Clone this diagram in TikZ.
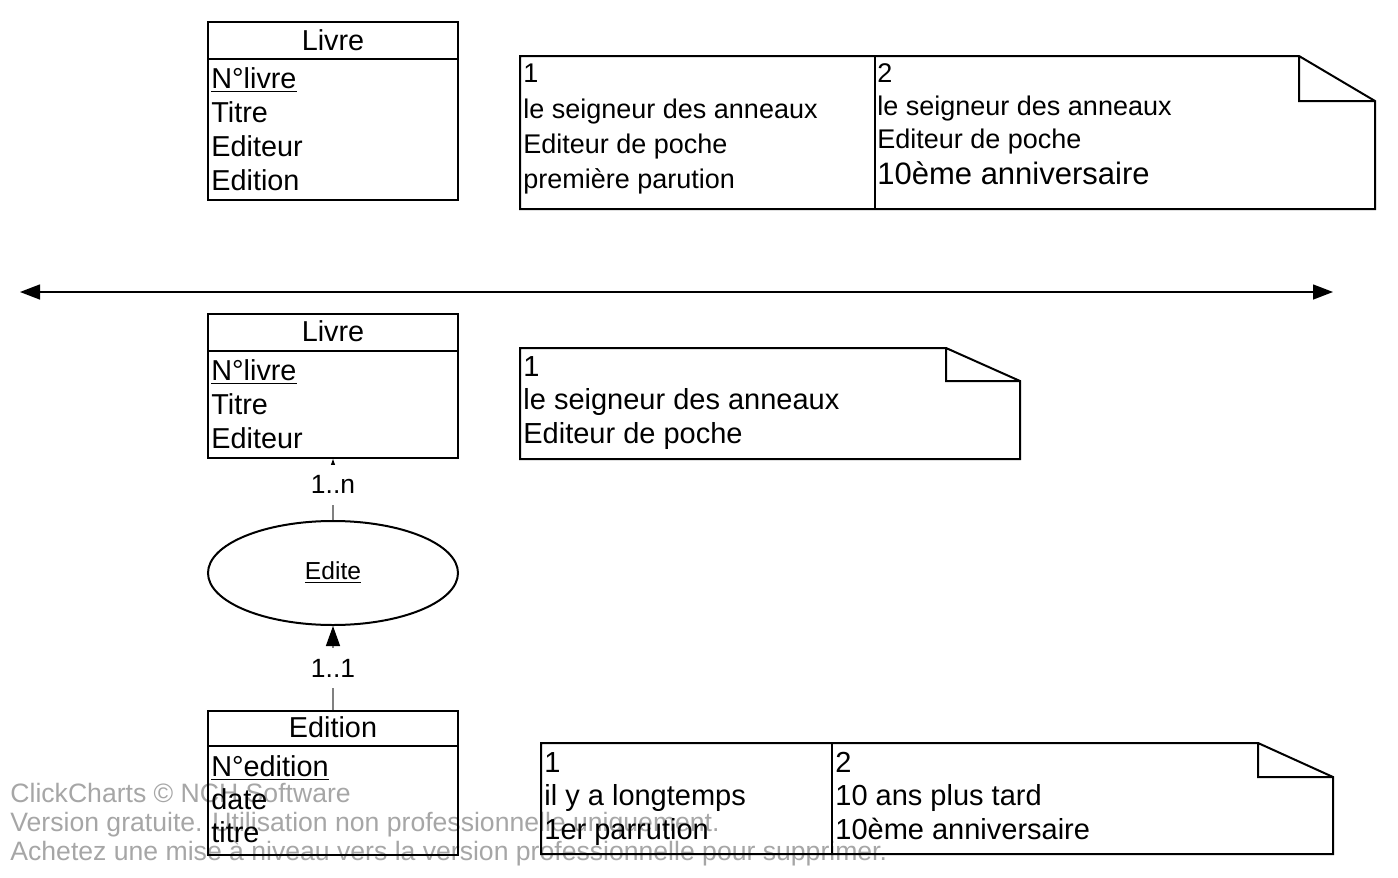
\documentclass[tikz,border=0pt]{standalone}
\usepackage{fontspec}
\setmainfont{Liberation Sans}
\usetikzlibrary{arrows.meta,shapes.geometric}
\tikzset{
  entity/.style={draw,line width=1pt,minimum width=125pt,anchor=north,inner sep=0pt},
  head/.style={anchor=base,inner sep=0pt,font=\fontsize{14.4}{17}\selectfont},
  attr/.style={anchor=base west,inner sep=0pt,font=\fontsize{14.4}{17}\selectfont},
  assoc/.style={draw,line width=1pt,ellipse,minimum width=125pt,minimum height=52pt,inner sep=0pt,font=\fontsize{12.3}{14}\selectfont},
  link/.style={draw=gray,line width=0.7pt,-{Triangle[length=10pt,width=7pt,color=black]}},
  card/.style={fill=white,inner xsep=2pt,inner ysep=5.5pt,font=\fontsize{13.2}{15}\selectfont},
  note/.style={line width=1pt,line join=miter},
  memo/.style={anchor=base west,inner sep=0pt},
  wmark/.style={anchor=base west,inner sep=0pt,text=gray!70!white,font=\fontsize{13.3}{16}\selectfont}
}
% note: left, top, right, bottom, fold x, fold y
\newcommand{\drawnote}[6]{%
  \draw[note] (#1,#2) -- (#5,#2) -- (#3,#6) -- (#3,#4) -- (#1,#4) -- cycle
    (#5,#2) -- (#5,#6) -- (#3,#6);}

\begin{document}
\begin{tikzpicture}[x=0.5pt,y=-0.5pt]
  \useasboundingbox (0,0) rectangle (1398,878);

  % watermark
  \node[wmark] (wm1) at (10,802) {ClickCharts © NCH Software};
  \node[wmark] (wm2) at (10,831) {Version gratuite. Utilisation non professionnelle uniquement.};
  \node[wmark] (wm3) at (10,860) {Achetez une mise à niveau vers la version professionnelle pour supprimer.};

  % before
  \node[entity,minimum height=89pt] (livreA) at (333,21) {};
  \draw[line width=1pt] ([yshift=-19pt]livreA.north west) -- ([yshift=-19pt]livreA.north east);
  \node[head] (livreAh) at (333,50) {Livre};
  \foreach \t [count=\i] in {\underline{N°livre},Titre,Editeur,Edition}
    \node[attr] (livreA-\i) at (211,{88+34*(\i-1)}) {\t};

  \drawnote{520}{56}{1375}{209}{1299}{101}
  \draw[note] (875,56) -- (875,209);
  \foreach \t [count=\i] in {1,le seigneur des anneaux,Editeur de poche,première parution}
    \node[memo,font=\fontsize{13.5}{16}\selectfont] (exA-\i) at (523,{83+35.3*(\i-1)}) {\t};
  \foreach \t [count=\i] in {2,le seigneur des anneaux,Editeur de poche}
    \node[memo,font=\fontsize{13.5}{16}\selectfont] (exB-\i) at (877,{82+33.4*(\i-1)}) {\t};
  \node[memo,font=\fontsize{15.5}{18}\selectfont] (exB-4) at (877,184) {10ème anniversaire};

  % separator
  \coordinate (sepL) at (20,292);
  \coordinate (sepR) at (1333,292);
  \draw[line width=0.7pt,{Triangle[length=10pt,width=7.5pt]}-{Triangle[length=10pt,width=7.5pt]}] (sepL) -- (sepR);

  % after
  \node[entity,minimum height=72pt] (livreB) at (333,313) {};
  \draw[line width=1pt] ([yshift=-19pt]livreB.north west) -- ([yshift=-19pt]livreB.north east);
  \node[head] (livreBh) at (333,341) {Livre};
  \foreach \t [count=\i] in {\underline{N°livre},Titre,Editeur}
    \node[attr] (livreB-\i) at (211,{380+34*(\i-1)}) {\t};

  \drawnote{520}{348}{1020}{459}{946}{381}
  \foreach \t [count=\i] in {1,le seigneur des anneaux,Editeur de poche}
    \node[memo,font=\fontsize{14.5}{17}\selectfont] (exC-\i) at (523,{376+33.5*(\i-1)}) {\t};

  \node[assoc] (edite) at (333,573) {\underline{Edite}};

  \node[entity,minimum height=72pt] (edition) at (333,710) {};
  \draw[line width=1pt] ([yshift=-18pt]edition.north west) -- ([yshift=-18pt]edition.north east);
  \node[head] (editionh) at (333,737) {Edition};
  \foreach \t [count=\i] in {\underline{N°edition},date,titre}
    \node[attr] (edition-\i) at (211,{776+33*(\i-1)}) {\t};

  \draw[link] (edition) -- node[card] (c11) {1..1} (edite);
  \draw[link] (edite) -- node[card,pos=0.58] (c1n) {1..n} (livreB);

  \drawnote{541}{743}{1333}{854}{1258}{777}
  \draw[note] (832,743) -- (832,854);
  \foreach \t [count=\i] in {1,il y a longtemps,1er parrution}
    \node[memo,font=\fontsize{14.5}{17}\selectfont] (exD-\i) at (544,{772+33.5*(\i-1)}) {\t};
  \foreach \t [count=\i] in {2,10 ans plus tard,10ème anniversaire}
    \node[memo,font=\fontsize{14.5}{17}\selectfont] (exE-\i) at (835,{772+33.5*(\i-1)}) {\t};
\end{tikzpicture}
\end{document}
